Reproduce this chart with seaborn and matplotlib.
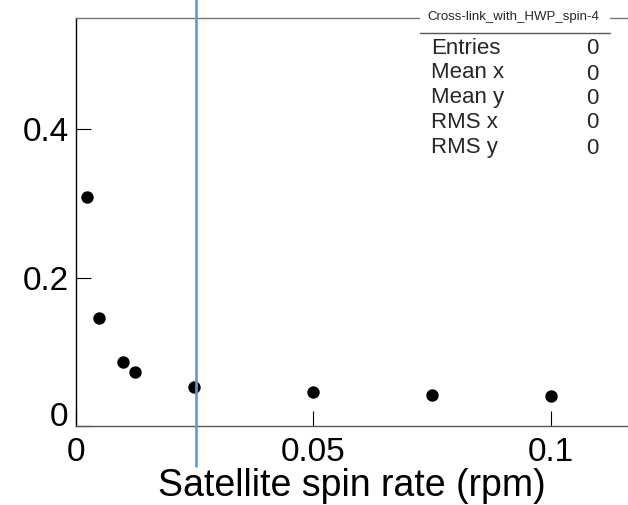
import matplotlib
matplotlib.use("Agg")
import matplotlib.pyplot as plt
import matplotlib.transforms as mtrans
import seaborn as sns
import pandas as pd
from matplotlib.patches import Rectangle
from matplotlib.lines import Line2D

# ---- data ----
spin_rate = [0.0025, 0.005, 0.01, 0.0125, 0.025, 0.05, 0.075, 0.1]
value = [0.309, 0.146, 0.086, 0.073, 0.053, 0.046, 0.042, 0.040]
vline_x = 0.0254
x_ticks = [0, 0.05, 0.1]
x_tick_labels = ["0", "0.05", "0.1"]
y_ticks = [0, 0.2, 0.4]
y_tick_labels = ["0", "0.2", "0.4"]
stats_title = "Cross-link_with_HWP_spin-4"
stats_names = ["Entries", "Mean x", "Mean y", "RMS x", "RMS y"]
stats_values = ["0", "0", "0", "0", "0"]
x_label = "Satellite spin rate (rpm)"

sns.set_style("white")
plt.rcParams["font.family"] = ["Liberation Sans", "DejaVu Sans"]

W, H = 628, 505
fig = plt.figure(figsize=(W / 100, H / 100), dpi=100)
ax = fig.add_axes([75.5 / W, (H - 426) / H, 1 - 75.5 / W, (426 - 18) / H])

df = pd.DataFrame({"x": spin_rate, "y": value})
sns.scatterplot(data=df, x="x", y="y", ax=ax, color="black", s=80,
                edgecolor="black", linewidth=0, zorder=3)

ax.set_xlim(0, 0.1163)
ax.set_ylim(0, 0.5495)

ax.set_xticks(x_ticks)
ax.set_xticklabels(x_tick_labels)
ax.set_yticks(y_ticks)
ax.set_yticklabels(y_tick_labels)
ax.tick_params(axis="both", which="major", direction="in", length=11, width=0.8,
               labelsize=24, colors="black", bottom=True, left=True,
               top=False, right=False)
ax.tick_params(axis="x", pad=8)
ax.tick_params(axis="y", pad=5)
ax.set_xlabel(x_label, fontsize=27, labelpad=0, color="black")
ax.set_ylabel("")

# raise the y "0" label a little, as in the reference
lab0 = ax.get_yticklabels()[0]
lab0.set_transform(lab0.get_transform() + mtrans.ScaledTranslation(0, 12 / 100, fig.dpi_scale_trans))

ax.spines["left"].set_color("black")
ax.spines["bottom"].set_color("#555555")
ax.spines["top"].set_color("#777777")
ax.spines["right"].set_visible(False)
for s in ax.spines.values():
    s.set_linewidth(1.0)

# vertical line beyond axes
ax.plot([vline_x, vline_x], [-0.0545, 0.58], color="#5b9bd8", lw=1.9,
        clip_on=False, zorder=4)

# stats box
def px(x, y):
    return x / W, 1 - y / H

x0, y0 = px(420, 33)
x1, y1 = px(610, 5)
fig.patches.append(Rectangle((x0, y0), x1 - x0, y1 - y0, transform=fig.transFigure,
                             facecolor="white", edgecolor="none", zorder=5))
fig.lines.append(Line2D([x0, x1], [y0, y0], transform=fig.transFigure,
                        color="#555555", lw=1.0, zorder=6))
tx, ty = px(513, 17)
fig.text(tx, ty, stats_title, fontsize=9.5, ha="center", va="center", zorder=7)

row_y = [48, 73, 98, 122, 147]
for name, val, ry in zip(stats_names, stats_values, row_y):
    nx, ny = px(431, ry)
    fig.text(nx, ny, name, fontsize=16, ha="left", va="center", zorder=7)
    vx, vy = px(592, ry + 1)
    fig.text(vx, vy, val, fontsize=16, ha="center", va="center", zorder=7)

fig.savefig("out.png", dpi=100)
